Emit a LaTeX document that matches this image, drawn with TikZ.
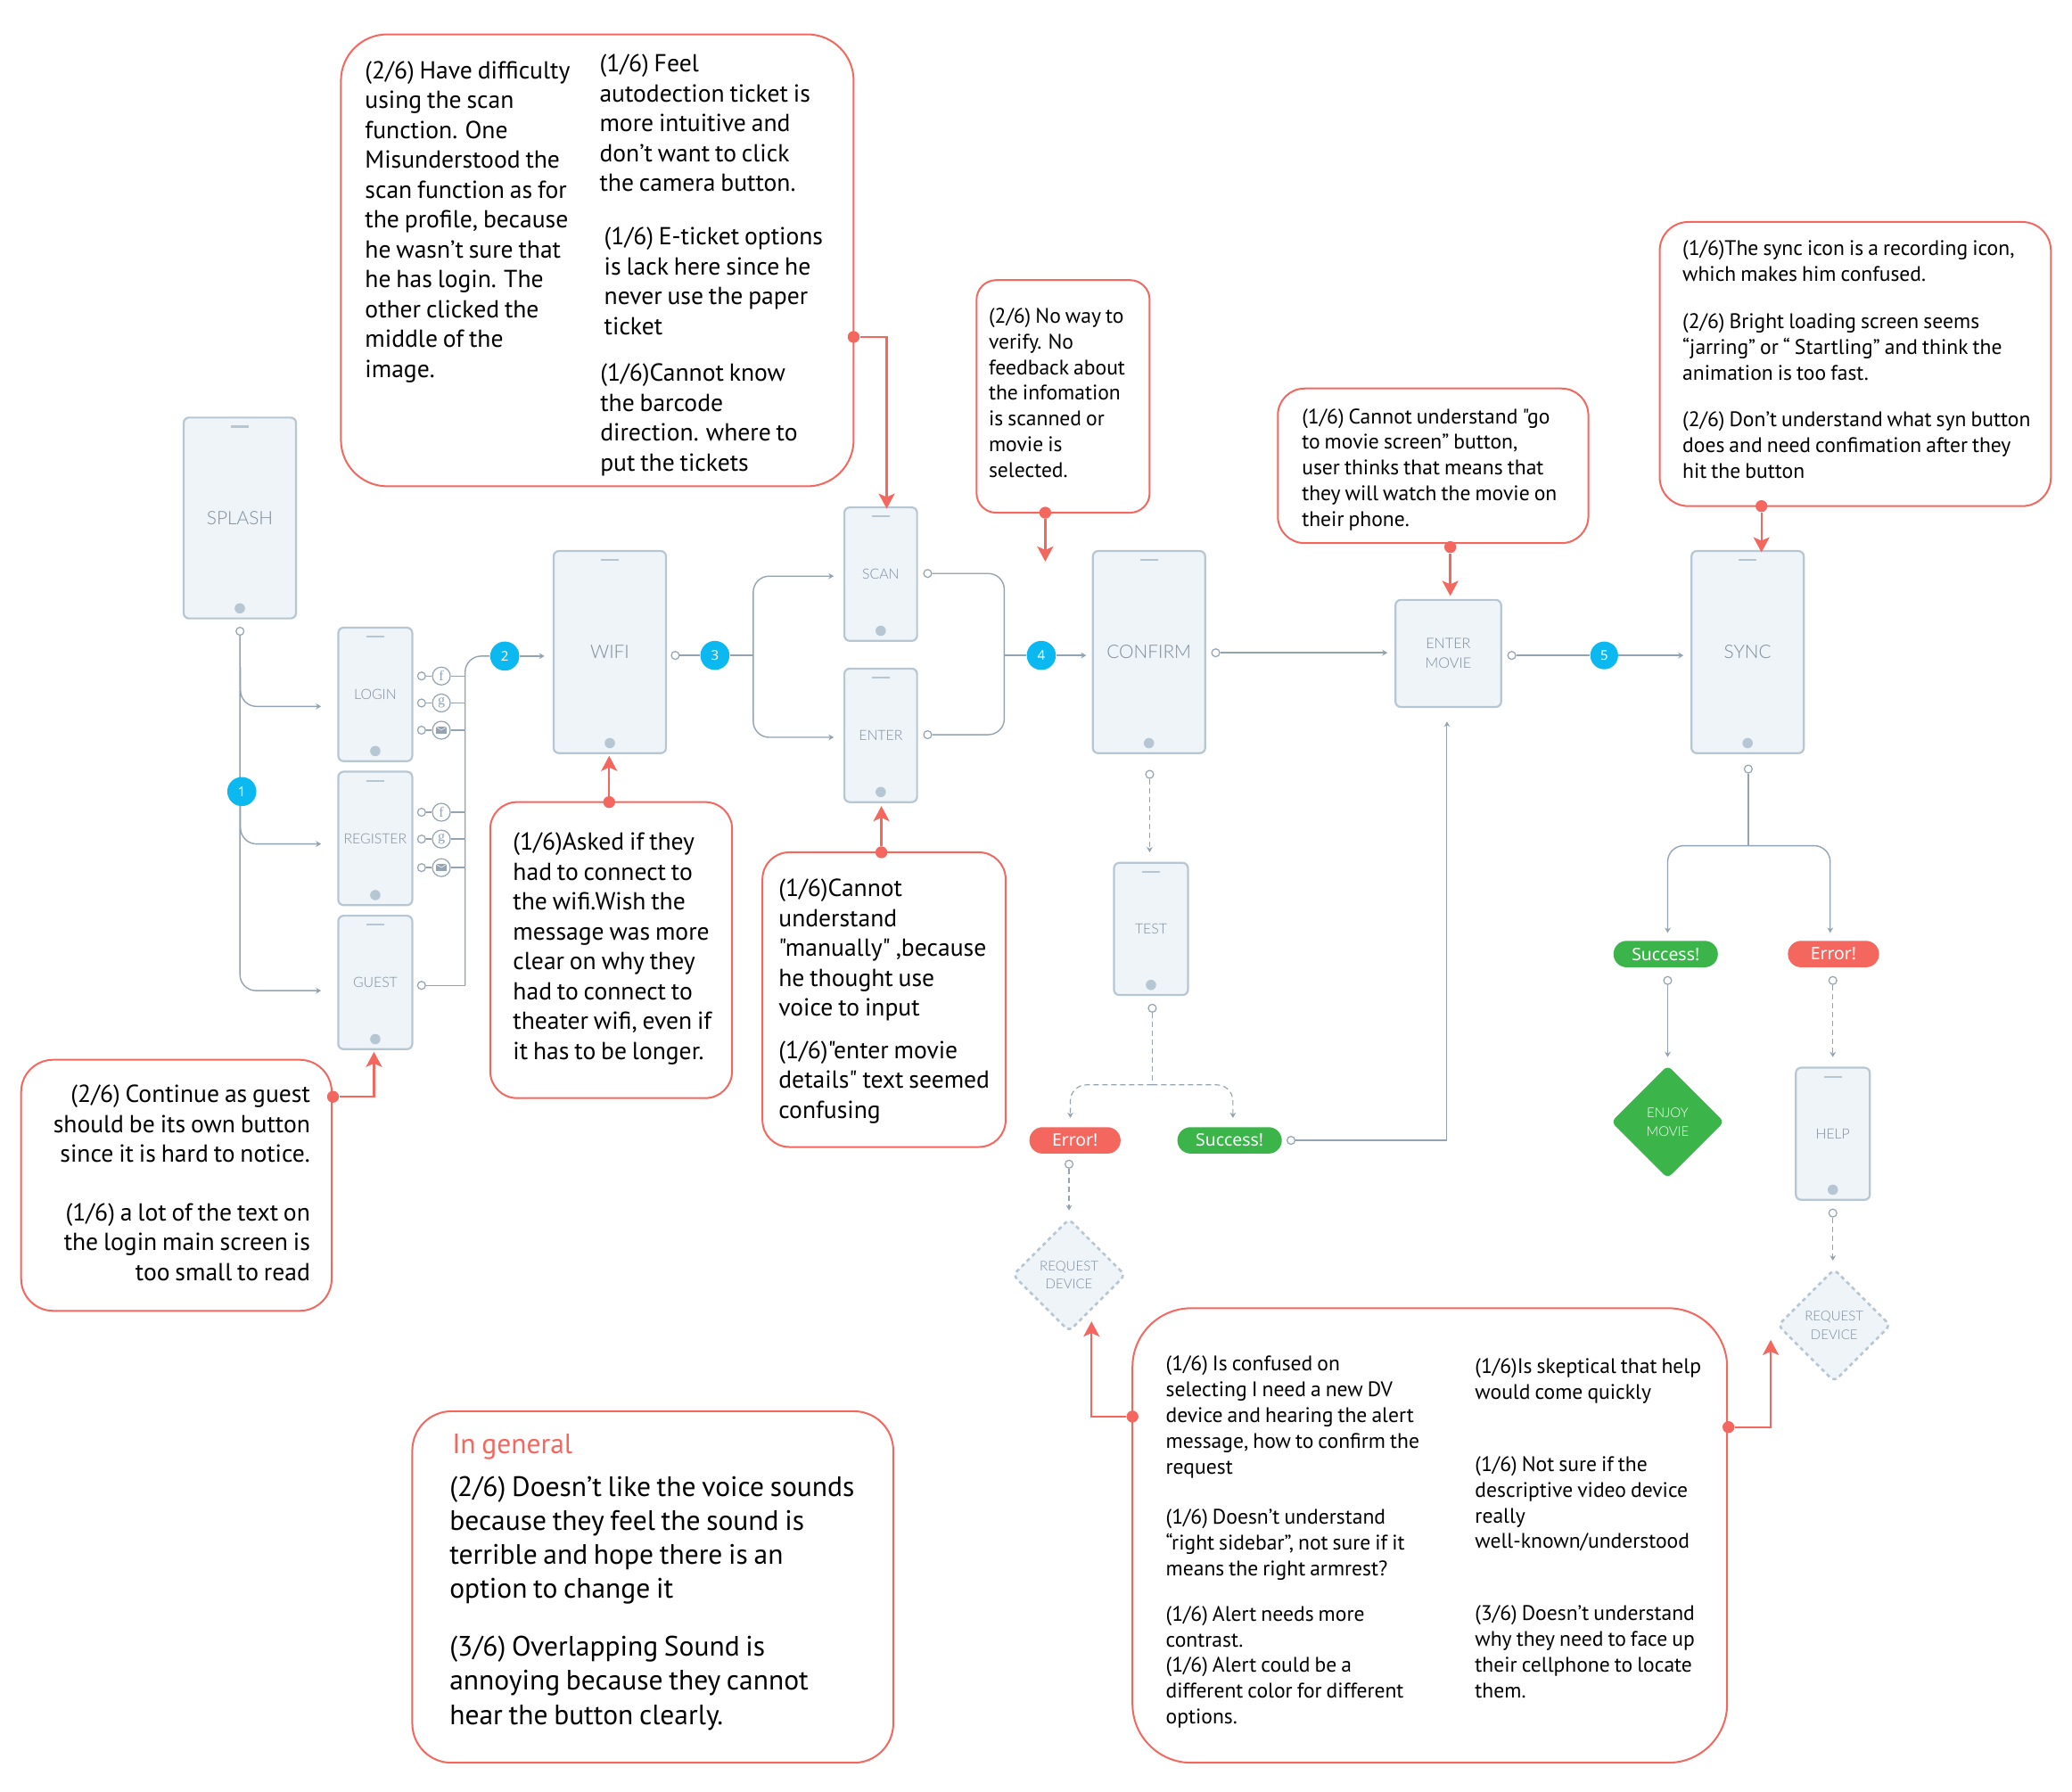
\documentclass[tikz,border=0pt]{standalone}
\usepackage{fontspec}
\usepackage{tikz}
\usetikzlibrary{arrows.meta,shapes.geometric}
\newfontfamily\notefont{PT Sans}[WordSpace=0.8]
\newfontfamily\labelfont{Lato Light}
\newfontfamily\pillfont{Noto Sans}
\newfontfamily\iconfont{Liberation Serif}
\newcommand{\px}{0.7411pt}
\definecolor{linegray}{HTML}{93A3B1}
\definecolor{phoneline}{HTML}{B7C6D3}
\definecolor{phonefill}{HTML}{EFF4F9}
\definecolor{labelgray}{HTML}{7D8C9A}
\definecolor{notered}{HTML}{F4675F}
\definecolor{okgreen}{HTML}{3BB54A}
\definecolor{stepblue}{HTML}{0BB8EF}
\tikzset{
  phonebox/.style={draw=phoneline,fill=phonefill,line width=1.1pt,rounded corners=3pt,inner sep=0pt,text=labelgray,align=center},
  biglabel/.style={font=\labelfont\fontsize{10.4}{13}\selectfont},
  smalllabel/.style={font=\labelfont\fontsize{7.9}{10.5}\selectfont},
  opendot/.style={circle,draw=linegray,fill=white,line width=.6pt,inner sep=0pt,minimum size=6*\px},
  iconring/.style={circle,draw=linegray,fill=white,line width=.6pt,inner sep=0pt,minimum size=13.5*\px,text=linegray,font=\iconfont\fontsize{8}{8}\selectfont},
  link/.style={draw=linegray,line width=.7pt},
  flow/.style={link,rounded corners=9pt,-{Stealth[length=3pt,width=3.4pt]}},
  dashflow/.style={flow,line width=.6pt,dash pattern=on 3pt off 2pt},
  stepdot/.style={circle,fill=stepblue,text=white,inner sep=0pt,minimum size=22*\px,font=\pillfont\fontsize{7.5}{7.5}\selectfont},
  pill/.style={rounded corners=7.4pt,text=white,inner sep=0pt,minimum height=20*\px,font=\pillfont\fontsize{9.7}{10}\selectfont},
  devicebox/.style={diamond,aspect=1,rounded corners=3pt,inner sep=0pt,minimum width=85.5*\px,minimum height=85.5*\px,align=center,font=\labelfont\fontsize{7.5}{10.4}\selectfont},
  callout/.style={draw=notered,line width=1pt},
  reddot/.style={circle,fill=notered,inner sep=0pt,minimum size=9*\px},
  redflow/.style={draw=notered,line width=1.2pt,-{Stealth[length=8.5pt,width=9pt,inset=2pt]}},
  notetext/.style={inner sep=0pt,anchor=north west,align=left},
  bodya/.style={notetext,font=\notefont\fontsize{13.8}{16.75}\selectfont},
  bodyb/.style={notetext,font=\notefont\fontsize{11.8}{14.4}\selectfont},
  bodyc/.style={notetext,font=\notefont\fontsize{15.75}{19.1}\selectfont},
}
\begin{document}
\begin{tikzpicture}[x=0.7411pt,y=-0.7411pt]
\useasboundingbox (0,0) rectangle (1568,1356);

% phones
\foreach \id/\cx/\cy/\pw/\ph/\txt/\sty in {
  splash/181.5/392/85/152/SPLASH/biglabel, wifi/461.5/493.5/85/153/WIFI/biglabel,
  confirm/869.5/493.5/85/153/CONFIRM/biglabel, sync/1322.5/493.5/85/153/SYNC/biglabel,
  login/284/525.5/56/101/LOGIN/smalllabel, register/284/634.5/56/101/REGISTER/smalllabel,
  guest/284/743.5/56/101/GUEST/smalllabel, scan/666.5/434.5/55/101/SCAN/smalllabel,
  enter/666.5/556.5/55/101/ENTER/smalllabel, test/871/703/56/100/TEST/smalllabel,
  help/1387/858/56/100/HELP/smalllabel} {
  \node[phonebox,\sty,minimum width=\pw*\px,minimum height=\ph*\px] (\id) at (\cx,\cy) {\txt};
  \draw[phoneline,line width=1.1pt] ([xshift=-5pt,yshift=-5.6pt]\id.north) -- ([xshift=5pt,yshift=-5.6pt]\id.north);
  \fill[phoneline] ([yshift=6.2pt]\id.south) circle (2.9pt);
}
\node[phonebox,font=\labelfont\fontsize{8.1}{11}\selectfont,minimum width=80*\px,minimum height=81*\px] (entermovie) at (1096,494.5) {ENTER\\MOVIE};

% first step
\node[opendot] (osplash) at (181.6,477.7) {};
\coordinate (tlogin) at (182,505);
\coordinate (tregister) at (182,610);
\coordinate (alogin) at (243,534.6);
\coordinate (aregister) at (243,638.7);
\coordinate (aguest) at (243,749.7);
\draw[flow] (osplash) |- (aguest);
\draw[flow] (tlogin) |- (alogin);
\draw[flow] (tregister) |- (aregister);
\node[stepdot] (stepone) at (183,599) {1};

% social logins
\foreach \id/\ypos/\glyph in {fa/511.6/f,ga/532/g,ma/552.6/,fb/614.7/f,ga2/635/g,mb/656.6/} {
  \node[opendot] (o\id) at (319,\ypos) {};
  \node[iconring] (i\id) at (334,\ypos) {\glyph};
  \coordinate (b\id) at (352,\ypos);
  \draw[link] (o\id) -- (i\id);
  \draw[link] (i\id) -- (b\id);
}
\foreach \id in {ma,mb} {
  \fill[linegray] ([xshift=-3pt,yshift=-2pt]i\id.center) rectangle ([xshift=3pt,yshift=2pt]i\id.center);
  \draw[white,line width=.25pt] ([xshift=-3pt,yshift=2pt]i\id.center) -- (i\id.center) -- ([xshift=3pt,yshift=2pt]i\id.center);
}
\node[stepdot] (steptwo) at (382,496.5) {2};
\node[opendot] (oguest) at (319,745.7) {};
\coordinate (buscorner) at (352,745.7);
\coordinate (bustop) at (352,496.5);
\coordinate (awifi) at (412,496.5);
\draw[link] (oguest) -- (buscorner);
\draw[link,rounded corners=9pt] (buscorner) -- (bustop) -- (steptwo);
\draw[flow] (steptwo) -- (awifi);

% scan or enter
\node[opendot] (owifi) at (511,496) {};
\node[stepdot] (stepthree) at (541,496) {3};
\coordinate (forkin) at (570,496);
\coordinate (ascan) at (631,436);
\coordinate (aenter) at (631,558);
\draw[link] (owifi) -- (stepthree);
\draw[link] (stepthree) -- (forkin);
\draw[flow] (forkin) |- (ascan);
\draw[flow] (forkin) |- (aenter);
\node[opendot] (oscan) at (702,434) {};
\node[opendot] (oenter) at (702,556) {};
\node[stepdot] (stepfour) at (788,496) {4};
\coordinate (forkout) at (760,496);
\coordinate (aconfirm) at (822,496);
\draw[link,rounded corners=9pt] (oscan) -| (forkout);
\draw[link,rounded corners=9pt] (oenter) -| (forkout);
\draw[link] (forkout) -- (stepfour);
\draw[flow] (stepfour) -- (aconfirm);

% confirm to sync
\node[opendot] (oconfirm) at (920,494) {};
\coordinate (amovie) at (1050,494);
\draw[flow] (oconfirm) -- (amovie);
\node[opendot] (omovie) at (1144,496) {};
\node[stepdot,minimum size=21*\px] (stepfive) at (1214,496) {5};
\coordinate (async) at (1274,496);
\draw[link] (omovie) -- (stepfive);
\draw[flow] (stepfive) -- (async);

% test branch
\node[opendot] (oconfirmb) at (870,586) {};
\coordinate (atest) at (870,645);
\draw[dashflow] (oconfirmb) -- (atest);
\node[opendot] (otest) at (872,763) {};
\coordinate (testfork) at (872,821);
\coordinate (aerror) at (810,846);
\coordinate (asuccess) at (933,846);
\draw[link,line width=.6pt,dash pattern=on 3pt off 2pt] (otest) -- (testfork);
\draw[dashflow] (testfork) -| (aerror);
\draw[dashflow] (testfork) -| (asuccess);
\node[pill,fill=notered,minimum width=69*\px] (errortest) at (813.5,863) {Error!};
\node[pill,fill=okgreen,minimum width=79*\px] (successtest) at (930.5,863) {Success!};
\node[opendot] (oerror) at (809,881) {};
\coordinate (arequest) at (809,916);
\draw[dashflow] (oerror) -- (arequest);
\node[devicebox,draw=phoneline,fill=phonefill,text=labelgray,line width=1.3pt,dash pattern=on 2.2pt off 2pt] (requesta) at (809,965) {REQUEST\\DEVICE};
\node[opendot] (osuccess) at (977,863) {};
\coordinate (movieback) at (1095,863);
\coordinate (amovieb) at (1095,546);
\draw[link] (osuccess) -- (movieback);
\draw[link,line width=.5pt,-{Stealth[length=3pt,width=3.4pt]}] (movieback) -- (amovieb);

% sync branch
\node[opendot] (osync) at (1323,582) {};
\coordinate (syncfork) at (1323,640);
\coordinate (aok) at (1262,706);
\coordinate (ako) at (1385,706);
\draw[link] (osync) -- (syncfork);
\draw[flow] (syncfork) -| (aok);
\draw[flow] (syncfork) -| (ako);
\node[pill,fill=okgreen,minimum width=79*\px] (successsync) at (1260.5,722) {Success!};
\node[pill,fill=notered,minimum width=69*\px] (errorsync) at (1387.5,722) {Error!};
\node[opendot] (ook) at (1262,742) {};
\node[opendot] (oko) at (1387,742) {};
\coordinate (aenjoy) at (1262,800);
\coordinate (ahelp) at (1387,800);
\draw[flow] (ook) -- (aenjoy);
\draw[dashflow] (oko) -- (ahelp);
\node[devicebox,fill=okgreen,text=white] (enjoy) at (1262,849) {ENJOY\\MOVIE};
\node[opendot] (ohelp) at (1387,918) {};
\coordinate (arequestb) at (1387,954);
\draw[dashflow] (ohelp) -- (arequestb);
\node[devicebox,draw=phoneline,fill=phonefill,text=labelgray,line width=1.3pt,dash pattern=on 2.2pt off 2pt] (requestb) at (1388,1003) {REQUEST\\DEVICE};

% red notes
\foreach \id/\cx/\cy/\bw/\bh/\rad in {
  notescan/452/197/388/342/26, noteconfirm/804.5/300/131/176/11,
  notemovie/1084.5/352.5/235/117/15, notesync/1404/275.5/296/215/16,
  notewifi/462.5/719/183/224/15, noteenter/669/756.5/184/223/15,
  noteguest/133.5/897/235/190/18, notegeneral/494/1201/364/266/22,
  notedevice/1082/1162/450/344/33} {
  \node[callout,inner sep=0pt,minimum width=\bw*\px,minimum height=\bh*\px,rounded corners=\rad pt] (\id) at (\cx,\cy) {};
}

\node[bodya] (txtscana) at (276,46) {(2/6) Have difficulty\\using the scan\\function. One\\Misunderstood the\\scan function as for\\the profile, because\\he wasn’t sure that\\he has login. The\\other clicked the\\middle of the\\image.};
\node[bodya] (txtscanb) at (453.5,41) {(1/6) Feel\\autodection ticket is\\more intuitive and\\don’t want to click\\the camera button.};
\node[bodya] (txtscanc) at (457,172) {(1/6) E-ticket options\\is lack here since he\\never use the paper\\ticket};
\node[bodya] (txtscand) at (454,275) {(1/6)Cannot know\\the barcode\\direction. where to\\put the tickets};
\node[bodyb] (txtconfirm) at (748,233) {(2/6) No way to\\verify. No\\feedback about\\the infomation\\is scanned or\\movie is\\selected.};
\node[bodyb] (txtmovie) at (985,309) {(1/6) Cannot understand "go\\to movie screen” button,\\user thinks that means that\\they will watch the movie on\\their phone.};
\node[bodyb] (txtsync) at (1273,182) {(1/6)The sync icon is a recording icon,\\which makes him confused.\\[12pt](2/6) Bright loading screen seems\\“jarring” or “ Startling” and think the\\animation is too fast.\\[12pt](2/6) Don’t understand what syn button\\does and need confimation after they\\hit the button};
\node[bodya] (txtwifi) at (388,630) {(1/6)Asked if they\\had to connect to\\the wifi.Wish the\\message was more\\clear on why they\\had to connect to\\theater wifi, even if\\it has to be longer.};
\node[bodya] (txtenter) at (589,665) {(1/6)Cannot\\understand\\"manually" ,because\\he thought use\\voice to input\\[7pt](1/6)"enter movie\\details" text seemed\\confusing};
\node[bodya,anchor=north east,align=right] (txtguest) at (235,821) {(2/6) Continue as guest\\should be its own button\\since it is hard to notice.\\[16pt](1/6) a lot of the text on\\the login main screen is\\too small to read};
\node[bodyc,text=notered] (txtgeneral) at (342,1085) {In general};
\node[bodyc] (txtgeneralb) at (340,1117) {(2/6) Doesn’t like the voice sounds\\because they feel the sound is\\terrible and hope there is an\\option to change it\\[13.3pt](3/6) Overlapping Sound is\\annoying because they cannot\\hear the button clearly.};
\node[bodyb] (txtdevicea) at (882,1026) {(1/6) Is confused on\\selecting I need a new DV\\device and hearing the alert\\message, how to confirm the\\request\\[14pt](1/6) Doesn’t understand\\“right sidebar”, not sure if it\\means the right armrest?\\[11pt](1/6) Alert needs more\\contrast.\\(1/6) Alert could be a\\different color for different\\options.};
\node[bodyb] (txtdeviceb) at (1116,1028) {(1/6)Is skeptical that help\\would come quickly\\[26pt](1/6) Not sure if the\\descriptive video device\\really\\well-known/understood\\[26pt](3/6) Doesn’t understand\\why they need to face up\\their cellphone to locate\\them.};

% red arrows
\foreach \id/\cx/\cy in {dscan/646/255, dconfirm/791/388, dmovie/1097.5/414, dsync/1333/383, dwifi/461/607, denter/667/645, dguest/252/830, ddevicea/857/1072, ddeviceb/1308/1080} {
  \node[reddot] (\id) at (\cx,\cy) {};
}
\coordinate (rscan) at (671,385);
\coordinate (rconfirm) at (791,425);
\coordinate (rmovie) at (1097.5,451);
\coordinate (rsync) at (1333,418);
\coordinate (rwifi) at (461,572);
\coordinate (renter) at (667,610);
\coordinate (rguest) at (283,796);
\coordinate (rdevicea) at (826,1000);
\coordinate (rdeviceb) at (1340,1014);
\draw[redflow] (dscan) -| (rscan);
\draw[redflow] (dconfirm) -- (rconfirm);
\draw[redflow] (dmovie) -- (rmovie);
\draw[redflow] (dsync) -- (rsync);
\draw[redflow] (dwifi) -- (rwifi);
\draw[redflow] (denter) -- (renter);
\draw[redflow] (dguest) -| (rguest);
\draw[redflow] (ddevicea) -| (rdevicea);
\draw[redflow] (ddeviceb) -| (rdeviceb);
\end{tikzpicture}
\end{document}
